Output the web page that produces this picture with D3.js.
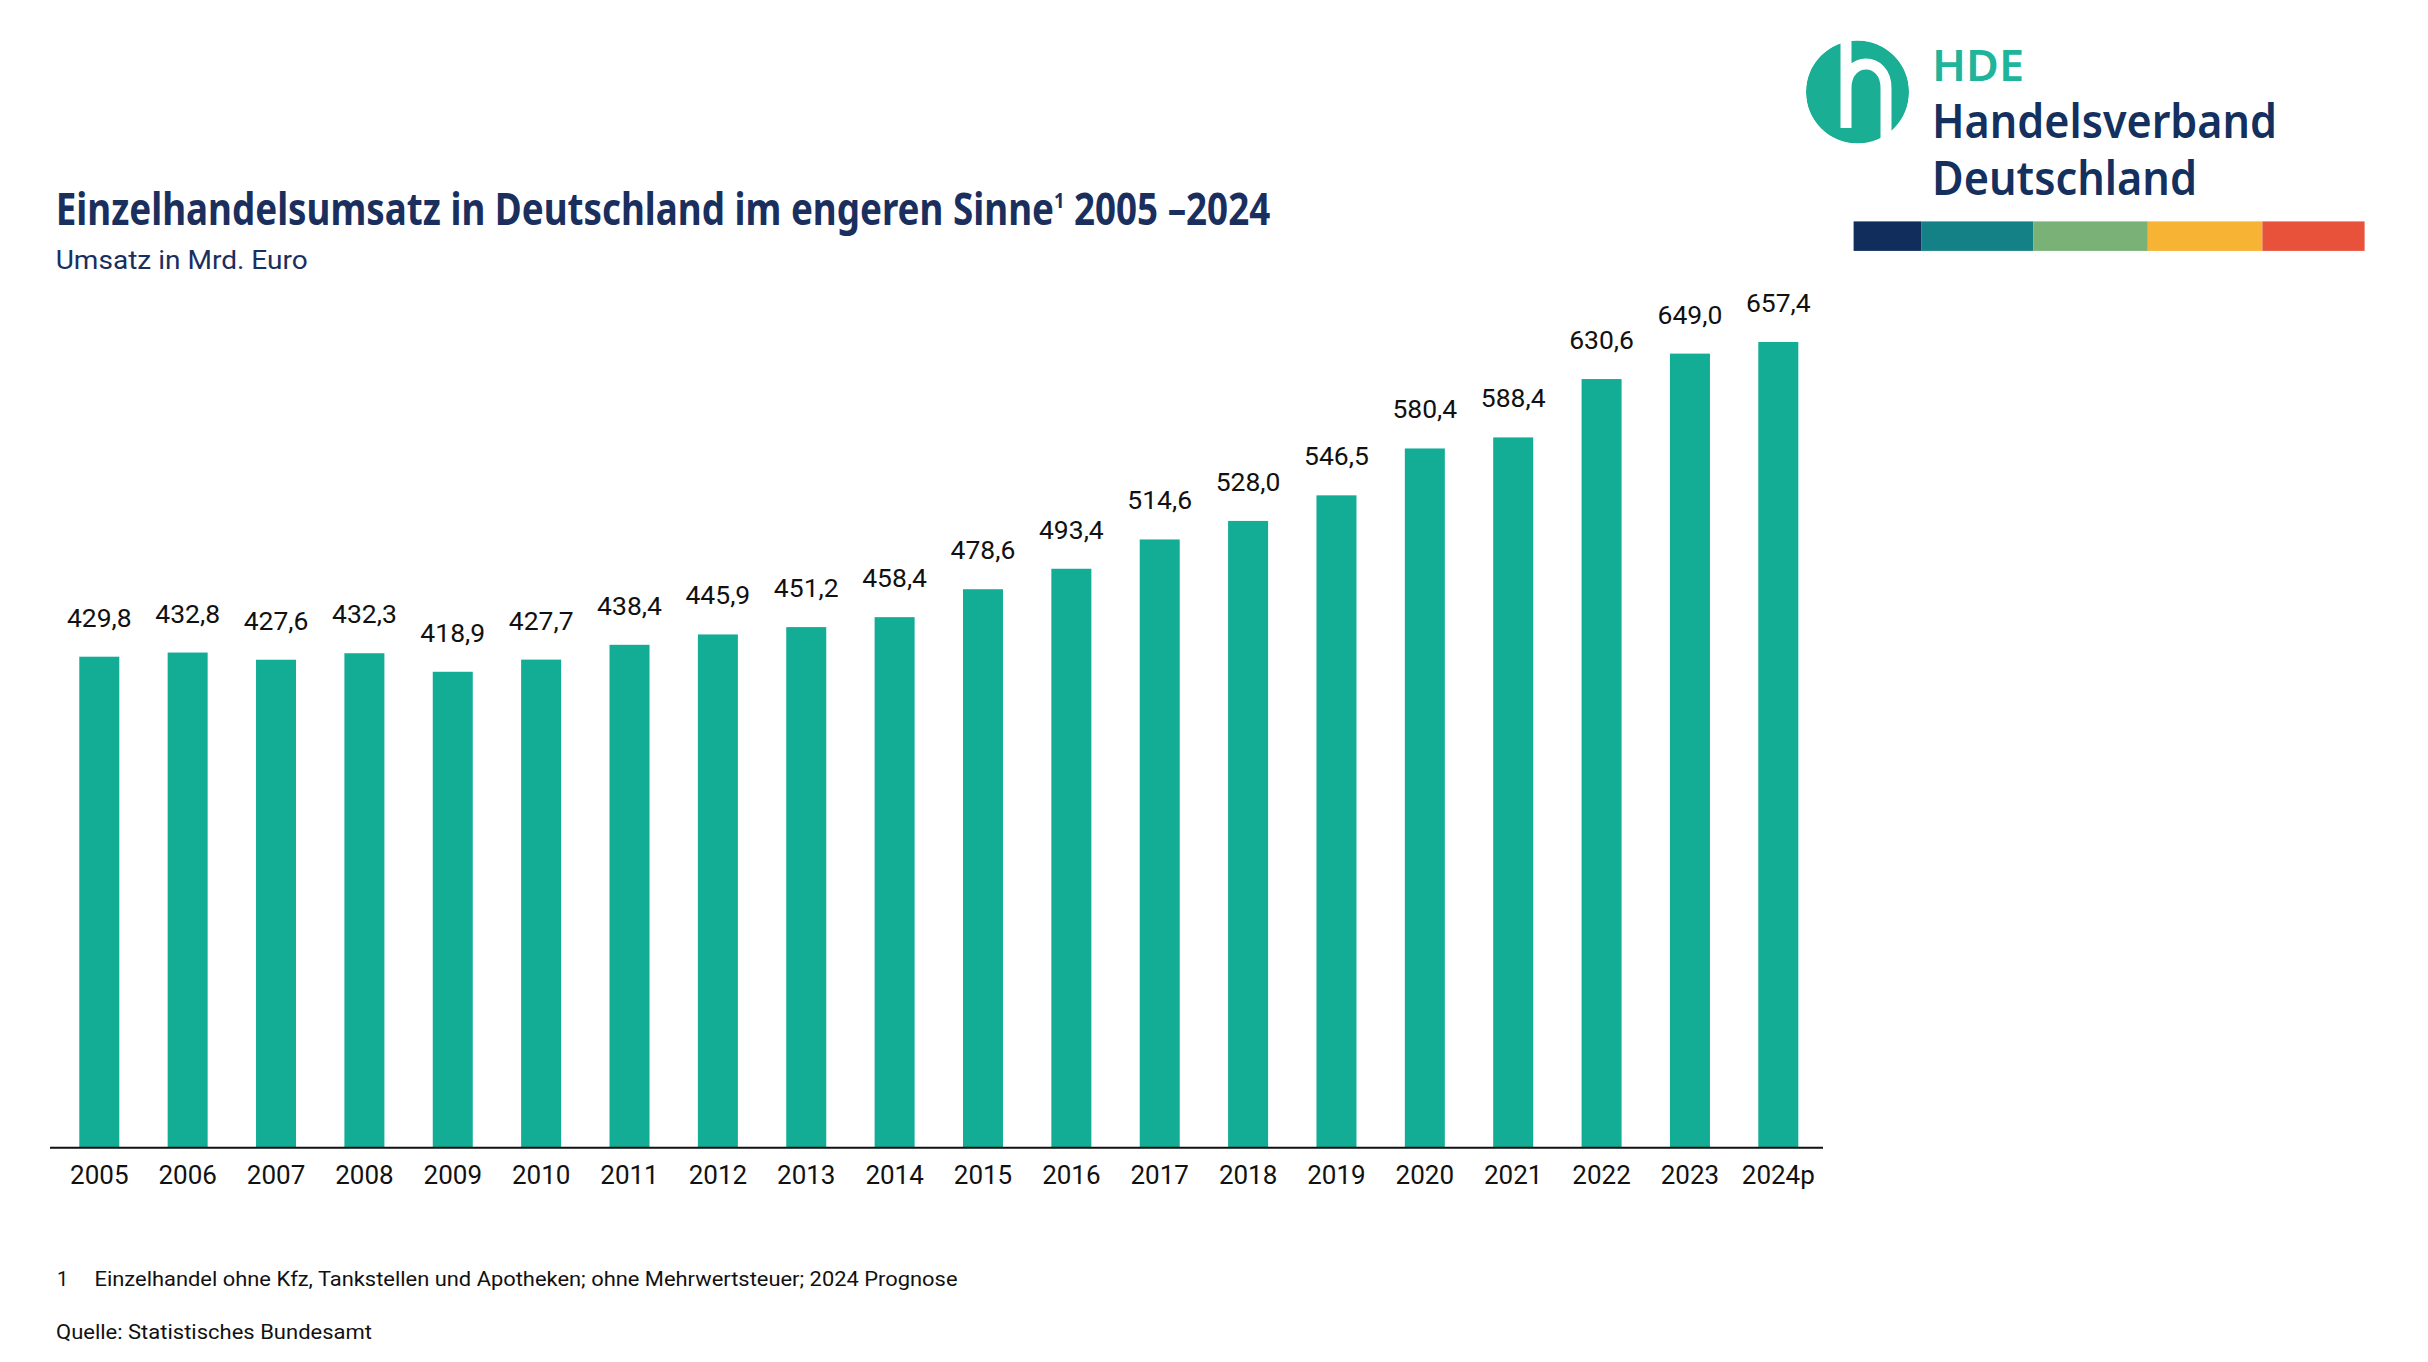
<!DOCTYPE html>
<html><head><meta charset="utf-8">
<script src="https://cdn.jsdelivr.net/npm/d3@7"></script>
<style>html,body{margin:0;padding:0;background:#fff;}svg{display:block;}</style>
</head><body>
<script>
const years = ["2005","2006","2007","2008","2009","2010","2011","2012","2013","2014","2015","2016","2017","2018","2019","2020","2021","2022","2023","2024p"];
const values = [429.8,432.8,427.6,432.3,418.9,427.7,438.4,445.9,451.2,458.4,478.6,493.4,514.6,528.0,546.5,580.4,588.4,630.6,649.0,657.4];
const stripeColors = ["#112d5c","#148186","#79b177","#f6b334","#e8523a"];
const stripeStops = [0, 68, 179.6, 294.2, 408.8, 511];

const W = 2428, H = 1362;
const svg = d3.select("body").append("svg").attr("width", W).attr("height", H);

const x = d3.scaleBand().domain(years).range([55.1, 1822.5]).padding(0);
const y = d3.scaleLinear().domain([74.7, 657.4]).range([1147.7, 342]);
const barW = x.bandwidth() * 0.4527;
const teal = "#13ad96";

// bars
svg.selectAll("rect.bar").data(values).join("rect")
  .attr("class","bar")
  .attr("x", (d,i) => x(years[i]) + x.bandwidth()/2 - barW/2)
  .attr("width", barW)
  .attr("y", d => y(d))
  .attr("height", d => y.range()[0] - y(d))
  .attr("fill", teal);

// value labels
const fmt = v => v.toFixed(1).replace(".", ",");
svg.selectAll("text.val").data(values).join("text")
  .attr("class","val")
  .attr("x", (d,i) => x(years[i]) + x.bandwidth()/2)
  .attr("y", d => y(d) - 30)
  .attr("text-anchor","middle")
  .attr("font-family","Roboto, sans-serif")
  .attr("font-size", 26.5)
  .attr("fill","#111")
  .text(fmt);

// x axis
const xAxis = d3.axisBottom(x).tickSize(0).tickPadding(0);
const gx = svg.append("g").attr("transform", "translate(0,1147.7)").call(xAxis);
gx.select(".domain").remove();
gx.selectAll("text")
  .attr("font-family","Roboto, sans-serif")
  .attr("font-size", 26)
  .attr("fill","#111")
  .attr("dy", null)
  .attr("y", 36);
svg.append("line").attr("x1",50).attr("x2",1823).attr("y1",1147.7).attr("y2",1147.7)
  .attr("stroke","#111").attr("stroke-width",2);

// title (scaled horizontally to match reference width)
const navy = "#1b2f5e";
const tg = svg.append("g");
const title = tg.append("text").attr("x",0).attr("y",0)
  .attr("font-family","'Noto Sans', 'Open Sans', sans-serif")
  .attr("font-weight","bold").attr("font-size",44).attr("fill",navy);
title.append("tspan").text("Einzelhandelsumsatz in Deutschland im engeren Sinne");
title.append("tspan").attr("font-size",22).attr("dy",-17).text("1");
title.append("tspan").attr("dy",17).text(" 2005 –2024");
const tw = title.node().getBBox().width;
tg.attr("transform", `translate(55.7,224.5) scale(${1215/tw},1)`);

svg.append("text").attr("x",55.7).attr("y",269)
  .attr("font-family","Roboto, sans-serif").attr("font-size",26).attr("fill",navy)
  .attr("textLength",252).attr("lengthAdjust","spacingAndGlyphs")
  .text("Umsatz in Mrd. Euro");

// footnotes
svg.append("text").attr("x",57).attr("y",1286)
  .attr("font-family","Roboto, sans-serif").attr("font-size",20).attr("fill","#111").text("1");
svg.append("text").attr("x",94.5).attr("y",1286)
  .attr("font-family","Roboto, sans-serif").attr("font-size",20).attr("fill","#111")
  .attr("textLength",863).attr("lengthAdjust","spacingAndGlyphs")
  .text("Einzelhandel ohne Kfz, Tankstellen und Apotheken; ohne Mehrwertsteuer; 2024 Prognose");
svg.append("text").attr("x",56).attr("y",1339)
  .attr("font-family","Roboto, sans-serif").attr("font-size",20).attr("fill","#111")
  .attr("textLength",316).attr("lengthAdjust","spacingAndGlyphs")
  .text("Quelle: Statistisches Bundesamt");

// logo
const logo = svg.append("g");
logo.append("circle").attr("cx",1857.5).attr("cy",92).attr("r",51.5).attr("fill","#1aaf95");
logo.append("path")
  .attr("d","M1846,38 L1846,128 M1846,88 C1846,56 1886,56 1886,88 L1886,146")
  .attr("fill","none").attr("stroke","#fff").attr("stroke-width",11);
logo.append("circle").attr("cx",1857.5).attr("cy",92).attr("r",57).attr("fill","none").attr("stroke","#fff").attr("stroke-width",11);

const lf = "'Noto Sans', 'Open Sans', sans-serif";
logo.append("text").attr("x",1932).attr("y",80.5).attr("font-family",lf).attr("font-size",44).attr("font-weight",600)
  .attr("fill","#1fb59b").attr("textLength",92).attr("lengthAdjust","spacingAndGlyphs").text("HDE");
logo.append("text").attr("x",1932).attr("y",137.8).attr("font-family",lf).attr("font-size",46).attr("font-weight",600)
  .attr("fill","#13305e").attr("textLength",345).attr("lengthAdjust","spacingAndGlyphs").text("Handelsverband");
logo.append("text").attr("x",1932).attr("y",195).attr("font-family",lf).attr("font-size",46).attr("font-weight",600)
  .attr("fill","#13305e").attr("textLength",265).attr("lengthAdjust","spacingAndGlyphs").text("Deutschland");

logo.selectAll("rect.stripe").data(stripeColors).join("rect")
  .attr("class","stripe")
  .attr("x",(d,i)=>1853.6+stripeStops[i])
  .attr("width",(d,i)=>stripeStops[i+1]-stripeStops[i])
  .attr("y",221.4).attr("height",29.5)
  .attr("fill",d=>d);
</script>
</body></html>
